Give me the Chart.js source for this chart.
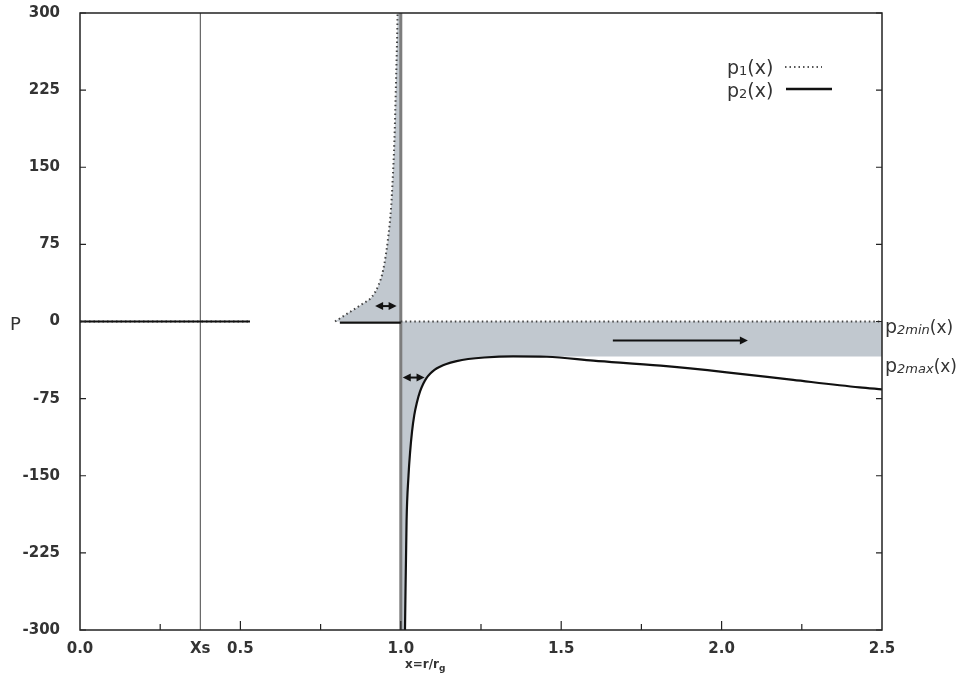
<!DOCTYPE html>
<html>
<head>
<meta charset="utf-8">
<script src="https://cdn.jsdelivr.net/npm/chart.js@4"></script>
<style>
  html, body { margin: 0; padding: 0; background: #fff; }
  #wrap { width: 964px; height: 680px; }
</style>
</head>
<body>
<div id="wrap"><canvas id="chart" width="964" height="680"></canvas></div>
<script>
// ---- data ----
const xs = 0.375;            // position of X_s marker
const p2max = -34;           // plateau / maximum of p2 for x > 1

// small-x branch, both roots near zero
const xNear = [0, 0.1, 0.2, 0.3, 0.4, 0.53];
const p1Near = [0, 0, 0, 0, 0, 0];
const p2Near = [0, 0, 0, 0, 0, 0];

// p1 rising to the pole at x = 1
const xP1Pole = [0.795, 0.82, 0.85, 0.88, 0.91, 0.93, 0.945, 0.96, 0.97, 0.975, 0.98, 0.985, 0.99, 0.995];
const p1Pole = [0, 5, 11, 17, 24, 35, 50, 80, 112, 140, 175, 232, 300, 420];

// p2 just below zero before the pole
const xP2Pre = [0.81, 1.0];
const p2Pre = [-1, -1];

// x > 1: p1 stays at zero (p2min), p2 climbs out of the pole
const xP1Right = [1.0, 2.5];
const p1Right = [0, 0];
const xP2Right = [1.011, 1.013, 1.018, 1.024, 1.029, 1.035, 1.042, 1.05, 1.06, 1.07, 1.08, 1.092, 1.105, 1.122, 1.14, 1.174, 1.21, 1.26, 1.35, 1.455, 1.6, 1.81, 2.016, 2.223, 2.43, 2.5];
const p2Right = [-340, -300, -194, -150, -127, -107, -91, -79, -68, -60.5, -55, -50.5, -47, -44, -41.5, -38.5, -36.5, -35, -34, -34.3, -38, -43, -49.4, -56.8, -64, -66];

// axes
const xTickVals = [0, xs, 0.5, 1.0, 1.5, 2.0, 2.5];
const xTickLabels = ['0.0', 'Xs', '0.5', '1.0', '1.5', '2.0', '2.5'];
const xMinorTicks = [0.25, 0.5, 0.75, 1.0, 1.25, 1.5, 1.75, 2.0, 2.25];
const yTicks = [-300, -225, -150, -75, 0, 75, 150, 225, 300];

// annotation arrows [x0, x1, y, doubleHeaded]
const arrows = [
  [0.92, 0.987, 15, true],
  [1.006, 1.074, -54.5, true],
  [1.661, 2.082, -18.5, false]
];

// ---- build series ----
const pts = (xa, ya) => xa.map((x, i) => ({ x: x, y: ya[i] }));
const gap = x => ({ x: x, y: null });

const p1Data = [].concat(pts(xNear, p1Near), [gap(0.6)], pts(xP1Pole, p1Pole), [gap(0.998)], pts(xP1Right, p1Right));
const p2Data = [].concat(pts(xNear, p2Near), [gap(0.6)], pts(xP2Pre, p2Pre), [gap(1.005)], pts(xP2Right, p2Right));

const peakIdx = p2Right.indexOf(Math.max(...p2Right));
const shadeData = [].concat(
  pts(xP1Pole, p1Pole),
  [{ x: 1.0, y: 420 }, { x: 1.0, y: -340 }],
  pts(xP2Right.slice(0, peakIdx + 1), p2Right.slice(0, peakIdx + 1)),
  [{ x: 2.5, y: p2max }]
);

const TXT = '#333';
const SHADE = 'rgb(193,200,207)';
const DOT = [1.5, 3];
const FONT = '"DejaVu Sans", sans-serif';

function drawArrowHead(ctx, x, y, dir) {
  ctx.beginPath();
  ctx.moveTo(x, y);
  ctx.lineTo(x - dir * 8, y - 4);
  ctx.lineTo(x - dir * 8, y + 4);
  ctx.closePath();
  ctx.fill();
}

function subText(ctx, x, y, parts) {
  // parts: [text, size, dy, italic]
  parts.forEach(p => {
    ctx.font = (p[3] ? 'italic ' : '') + p[1] + 'px ' + FONT;
    ctx.fillText(p[0], x, y + p[2]);
    x += ctx.measureText(p[0]).width;
  });
  return x;
}

const decor = {
  id: 'decor',
  afterDatasetsDraw(chart) {
    const ctx = chart.ctx;
    const a = chart.chartArea;
    const sx = chart.scales.x, sy = chart.scales.y;
    ctx.save();

    // arrows
    ctx.strokeStyle = '#111';
    ctx.fillStyle = '#111';
    ctx.lineWidth = 2;
    arrows.forEach(ar => {
      const x0 = sx.getPixelForValue(ar[0]), x1 = sx.getPixelForValue(ar[1]), y = sy.getPixelForValue(ar[2]);
      ctx.beginPath();
      ctx.moveTo(ar[3] ? x0 + 4 : x0, y);
      ctx.lineTo(x1 - 4, y);
      ctx.stroke();
      drawArrowHead(ctx, x1, y, 1);
      if (ar[3]) drawArrowHead(ctx, x0, y, -1);
    });

    // frame
    ctx.strokeStyle = '#222';
    ctx.lineWidth = 1.5;
    ctx.strokeRect(a.left, a.top, a.right - a.left, a.bottom - a.top);

    // inward ticks
    ctx.lineWidth = 1.2;
    ctx.beginPath();
    xMinorTicks.forEach(v => {
      const x = sx.getPixelForValue(v);
      ctx.moveTo(x, a.bottom);
      ctx.lineTo(x, a.bottom - (v % 0.5 === 0 ? 9 : 6));
    });
    yTicks.forEach(v => {
      const y = sy.getPixelForValue(v);
      ctx.moveTo(a.left, y); ctx.lineTo(a.left + 6, y);
      ctx.moveTo(a.right, y); ctx.lineTo(a.right - 6, y);
    });
    ctx.stroke();

    // legend
    ctx.fillStyle = TXT;
    ctx.textBaseline = 'alphabetic';
    ctx.textAlign = 'left';
    subText(ctx, 727, 74, [['p', 19, 0], ['1', 13, 1], ['(x)', 19, 0]]);
    ctx.strokeStyle = '#555';
    ctx.lineWidth = 2;
    ctx.setLineDash(DOT);
    ctx.beginPath(); ctx.moveTo(785, 67); ctx.lineTo(822, 67); ctx.stroke();
    ctx.setLineDash([]);
    subText(ctx, 727, 97, [['p', 19, 0], ['2', 13, 1], ['(x)', 19, 0]]);
    ctx.strokeStyle = '#111';
    ctx.lineWidth = 2.5;
    ctx.beginPath(); ctx.moveTo(786, 89); ctx.lineTo(832, 89); ctx.stroke();

    // labels right of plot
    subText(ctx, a.right + 3, sy.getPixelForValue(0) + 11, [['p', 19, 0], ['2min', 13, 1, true], ['(x)', 17, 0]]);
    subText(ctx, a.right + 3, sy.getPixelForValue(p2max) + 16, [['p', 19, 0], ['2max', 13, 1, true], ['(x)', 17, 0]]);

    // axis titles
    ctx.font = '18px ' + FONT;
    ctx.fillText('P', 10, sy.getPixelForValue(0) + 8);
    ctx.font = 'bold 12px ' + FONT;
    let tx = 405;
    ctx.fillText('x=r/r', tx, 668);
    tx += ctx.measureText('x=r/r').width;
    ctx.font = 'bold 9px ' + FONT;
    ctx.fillText('g', tx, 671);

    ctx.restore();
  }
};

new Chart(document.getElementById('chart'), {
  type: 'scatter',
  data: {
    datasets: [
      {
        label: 'p2(x)', data: p2Data, showLine: true, spanGaps: false,
        borderColor: '#111', borderWidth: 2.2, pointRadius: 0, cubicInterpolationMode: 'monotone', order: 1
      },
      {
        label: 'p1(x)', data: p1Data, showLine: true, spanGaps: false,
        borderColor: '#444', borderWidth: 2, borderDash: DOT, pointRadius: 0, cubicInterpolationMode: 'monotone', order: 2
      },
      {
        label: 'x=1', data: [{ x: 1.0, y: -300 }, { x: 1.0, y: 300 }], showLine: true,
        borderColor: '#7d7d7d', borderWidth: 3, pointRadius: 0, order: 3
      },
      {
        label: 'Xs', data: [{ x: xs, y: -300 }, { x: xs, y: 300 }], showLine: true,
        borderColor: '#444', borderWidth: 1, pointRadius: 0, order: 4
      },
      {
        label: 'shade', data: shadeData, showLine: true, fill: 'origin',
        backgroundColor: SHADE, borderWidth: 0, borderColor: 'rgba(0,0,0,0)', pointRadius: 0,
        cubicInterpolationMode: 'monotone', order: 5
      }
    ]
  },
  options: {
    responsive: false,
    animation: false,
    layout: { padding: { top: 13, right: 82, left: 0, bottom: 0 } },
    plugins: { legend: { display: false }, tooltip: { enabled: false } },
    scales: {
      x: {
        type: 'linear', min: 0, max: 2.5,
        grid: { display: false },
        border: { display: false },
        afterBuildTicks: s => { s.ticks = xTickVals.map(v => ({ value: v })); },
        afterFit: s => { s.height = 50; s.paddingLeft = 0; s.paddingRight = 0; },
        ticks: {
          autoSkip: false, maxRotation: 0, padding: 2,
          color: TXT, font: { family: 'DejaVu Sans', size: 15, weight: 'bold' },
          callback: (v, i) => xTickLabels[i]
        }
      },
      y: {
        type: 'linear', min: -300, max: 300,
        grid: { display: false },
        border: { display: false },
        afterBuildTicks: s => { s.ticks = yTicks.map(v => ({ value: v })); },
        afterFit: s => { s.width = 80; s.paddingTop = 0; s.paddingBottom = 0; },
        ticks: {
          padding: 12, color: TXT,
          font: { family: 'DejaVu Sans', size: 15, weight: 'bold' }
        }
      }
    }
  },
  plugins: [decor]
});
</script>
</body>
</html>
